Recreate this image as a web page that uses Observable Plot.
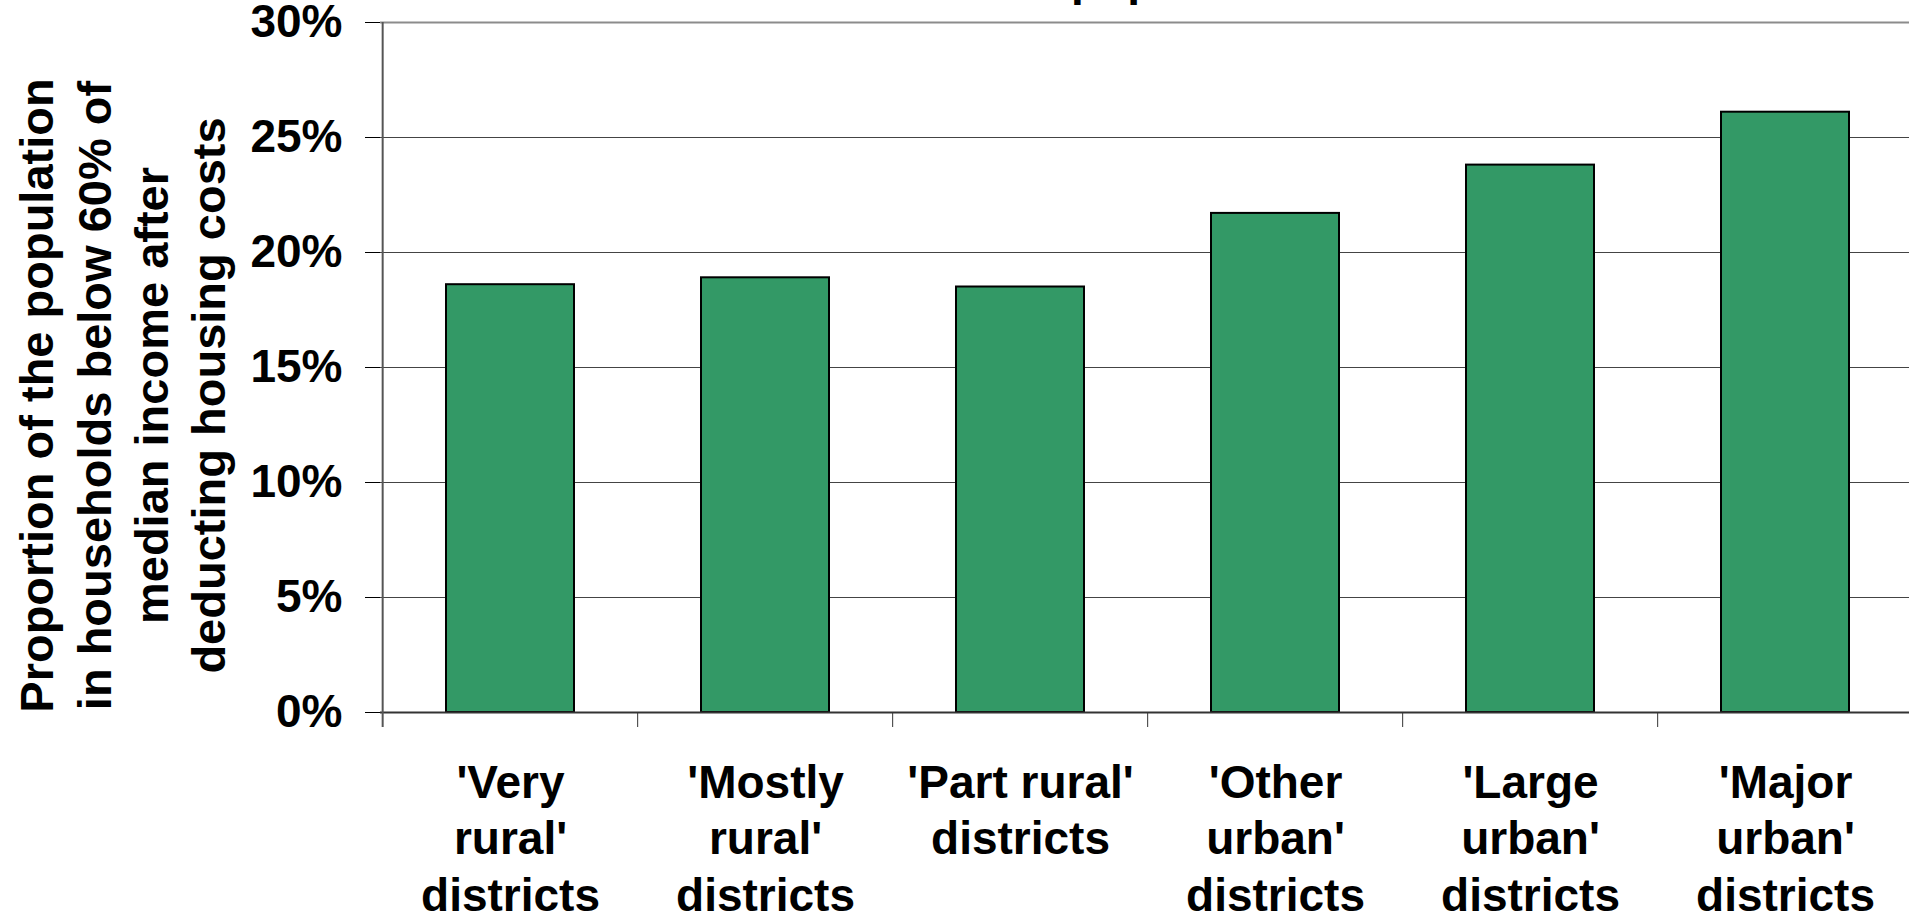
<!DOCTYPE html>
<html>
<head>
<meta charset="utf-8">
<script src="https://cdn.jsdelivr.net/npm/d3@7"></script>
<script src="https://cdn.jsdelivr.net/npm/@observablehq/plot@0.6"></script>
<style>
  html, body { margin: 0; padding: 0; background: #fff; overflow: hidden; }
  #wrap { position: relative; width: 1909px; height: 916px; overflow: hidden; background: #fff; }
  #chart { position: absolute; left: 0; top: 0; }
  #title { position: absolute; left: 1071px; top: -44px; z-index: 2; white-space: nowrap; color: #000;
           font: bold 46px "Liberation Sans", Arial, sans-serif; line-height: 46px; }
</style>
</head>
<body>
<div id="wrap">
  <div id="chart"></div>
  <div id="title">population</div>
</div>
<script>
// ---- data ----
const categories = ["Very rural", "Mostly rural", "Part rural", "Other urban", "Large urban", "Major urban"];
const categoryLabels = [
  "'Very\nrural'\ndistricts",
  "'Mostly\nrural'\ndistricts",
  "'Part rural'\ndistricts",
  "'Other\nurban'\ndistricts",
  "'Large\nurban'\ndistricts",
  "'Major\nurban'\ndistricts"
];
const values = [0.186, 0.189, 0.185, 0.217, 0.238, 0.261];
const yTicks = [0, 0.05, 0.10, 0.15, 0.20, 0.25, 0.30];
const yLabelLines = [
  "Proportion of the population",
  "in households below 60% of",
  "median income after",
  "deducting housing costs"
];

// ---- layout ----
const width = 1920, height = 916;
const marginLeft = 380, marginRight = 6, marginTop = 22, marginBottom = 204;
const step = (width - marginLeft - marginRight) / categories.length;
const font = '"Liberation Sans", Arial, sans-serif';

const data = categories.map((c, i) => ({category: c, value: values[i]}));

const chart = Plot.plot({
  width, height, marginLeft, marginRight, marginTop, marginBottom,
  style: {fontFamily: font, fontSize: "46px", fontWeight: "bold", color: "#000", background: "#fff", maxWidth: "none"},
  x: {domain: categories, paddingInner: 0.5, paddingOuter: 0.25, axis: null},
  y: {domain: [0, 0.3], axis: null},
  marks: [
    Plot.gridY(yTicks.slice(1, -1), {stroke: "#444", strokeOpacity: 1, strokeWidth: 1}),
    Plot.ruleY([yTicks[yTicks.length - 1]], {stroke: "#8c8c8c", strokeWidth: 2}),
    Plot.barY(data, {x: "category", y: "value", fill: "#339966", stroke: "#000", strokeWidth: 2}),
    Plot.ruleY([0], {stroke: "#333", strokeWidth: 2}),
    Plot.ruleX([categories[0]], {dx: -step / 2, y1: 0.3, y2: 0, insetBottom: -15, stroke: "#555", strokeWidth: 2}),
    Plot.ruleX(categories.slice(1), {dx: -step / 2, y1: 0, y2: 0, insetBottom: -15, stroke: "#333", strokeWidth: 1}),
    Plot.axisY(yTicks, {tickFormat: d3.format(".0%"), tickSize: 15, tickPadding: 23, fontSize: 46, fontWeight: "bold", label: null}),
    Plot.text(data, {x: "category", text: (d, i) => categoryLabels[i], frameAnchor: "bottom",
      textAnchor: "middle", lineAnchor: "top", dy: 45, lineHeight: 1.23, fontSize: 46, fontWeight: "bold", fill: "#000"}),
    Plot.text([yLabelLines.join("\n")], {text: d => d, frameAnchor: "left", textAnchor: "middle", lineAnchor: "middle",
      rotate: -90, dx: -259.5, dy: 28, lineHeight: 1.22, fontSize: 47, fontWeight: "bold", fill: "#000"})
  ]
});
document.getElementById("chart").appendChild(chart);
</script>
</body>
</html>
